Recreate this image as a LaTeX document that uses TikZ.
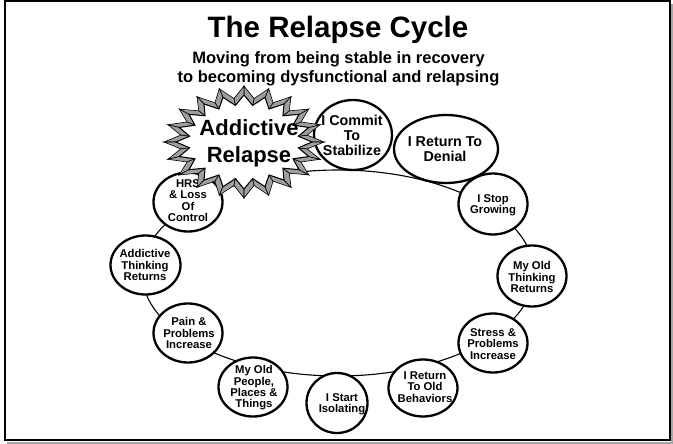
\documentclass[tikz,border=0pt]{standalone}
\usepackage{fontspec}
\setmainfont{Liberation Sans}
\usetikzlibrary{shapes.geometric}
\begin{document}
\begin{tikzpicture}[x=1pt,y=-1pt,
  bub/.style={draw=black, fill=white, line width=2.3pt, ellipse, inner sep=0pt},
  sm/.style={font=\bfseries\fontsize{11.3}{11.4}\selectfont, align=center, inner sep=0pt},
  md/.style={font=\bfseries\fontsize{14.3}{15}\selectfont, align=center, inner sep=0pt},
  ring/.style={draw=black, line width=1.1pt},
  spikegray/.style={fill=gray!75, draw=black, line width=0.6pt, line join=miter},
  spikewhite/.style={fill=white, draw=black, line width=1pt, line join=miter},
]
\useasboundingbox (0,0) rectangle (673,444);
% frame
\draw[gray!70, line width=1.6pt] (672,4) -- (672,443) -- (7,443);
\draw[black, line width=2.4pt] (4.7,1.2) rectangle (670,439.8);

% title
\node[anchor=base, inner sep=0pt, font=\bfseries\fontsize{29.5}{30}\selectfont] (title) at (338,38) {The Relapse Cycle};
\node[anchor=base, inner sep=0pt, font=\bfseries\fontsize{16.5}{17}\selectfont] (sub1) at (338.5,64) {Moving from being stable in recovery};
\node[anchor=base, inner sep=0pt, font=\bfseries\fontsize{16.5}{17}\selectfont] (sub2) at (338.5,83) {to becoming dysfunctional and relapsing};

% cycle ring
\draw[ring] (338,273) ellipse [x radius=196pt, y radius=103pt];

% bubbles
\node[bub, minimum width=78pt, minimum height=70pt] (commit) at (353,135) {};
\node[md] at (352,135) {I Commit\\To\\Stabilize};

\node[bub, minimum width=104pt, minimum height=68pt] (denial) at (446,149) {};
\node[md] at (445,149.5) {I Return To\\Denial};

\node[bub, minimum width=69pt, minimum height=61pt] (stop) at (493,204) {};
\node[sm] at (493,205) {I Stop\\Growing};

\node[bub, minimum width=69pt, minimum height=61pt] (think) at (532,276) {};
\node[sm] at (532,277) {My Old\\Thinking\\Returns};

\node[bub, minimum width=69pt, minimum height=59pt] (stress) at (493,343) {};
\node[sm] at (493,344) {Stress \&\\Problems\\Increase};

\node[bub, minimum width=69pt, minimum height=57pt] (behav) at (423,388) {};
\node[sm] at (425,387) {I Return\\To Old\\Behaviors};

\node[bub, minimum width=61pt, minimum height=60pt] (isol) at (337,403) {};
\node[sm] at (342,404) {I Start\\Isolating};

\node[bub, minimum width=69pt, minimum height=59pt] (people) at (253,387) {};
\node[sm] at (254,388) {My Old\\People,\\Places \&\\Things};

\node[bub, minimum width=69pt, minimum height=59pt] (pain) at (188,333) {};
\node[sm] at (189,333) {Pain \&\\Problems\\Increase};

\node[bub, minimum width=70pt, minimum height=59pt] (addthink) at (145.5,265) {};
\node[sm] at (145,265) {Addictive\\Thinking\\Returns};

\node[bub, minimum width=69pt, minimum height=59pt] (hrs) at (188,202) {};
\node[sm] at (188,200.5) {HRS\\\& Loss\\Of\\Control};

% starburst: extruded side faces, then white star
\begin{scope}[xshift=244pt, yshift=-142pt]
  \foreach \i [evaluate=\i as \a using \i*18,
               evaluate=\i as \b using \i*18+9,
               evaluate=\i as \c using \i*18+18] in {0,...,19} {
    \draw[spikegray] (\a:68pt and 47pt) -- (\b:55pt and 37pt)
      -- (\b:64pt and 44pt) -- (\a:80pt and 56pt) -- cycle;
    \draw[spikegray] (\b:55pt and 37pt) -- (\c:68pt and 47pt)
      -- (\c:80pt and 56pt) -- (\b:64pt and 44pt) -- cycle;
  }
  \draw[spikewhite] (0:68pt and 47pt)
    \foreach \i in {1,...,20} { -- ({(\i-0.5)*18}:55pt and 37pt) -- ({\i*18}:68pt and 47pt) } -- cycle;
\end{scope}
\node[font=\bfseries\fontsize{22}{27}\selectfont, align=center, inner sep=0pt] (relapse) at (249,143) {Addictive\\Relapse};
\end{tikzpicture}
\end{document}
